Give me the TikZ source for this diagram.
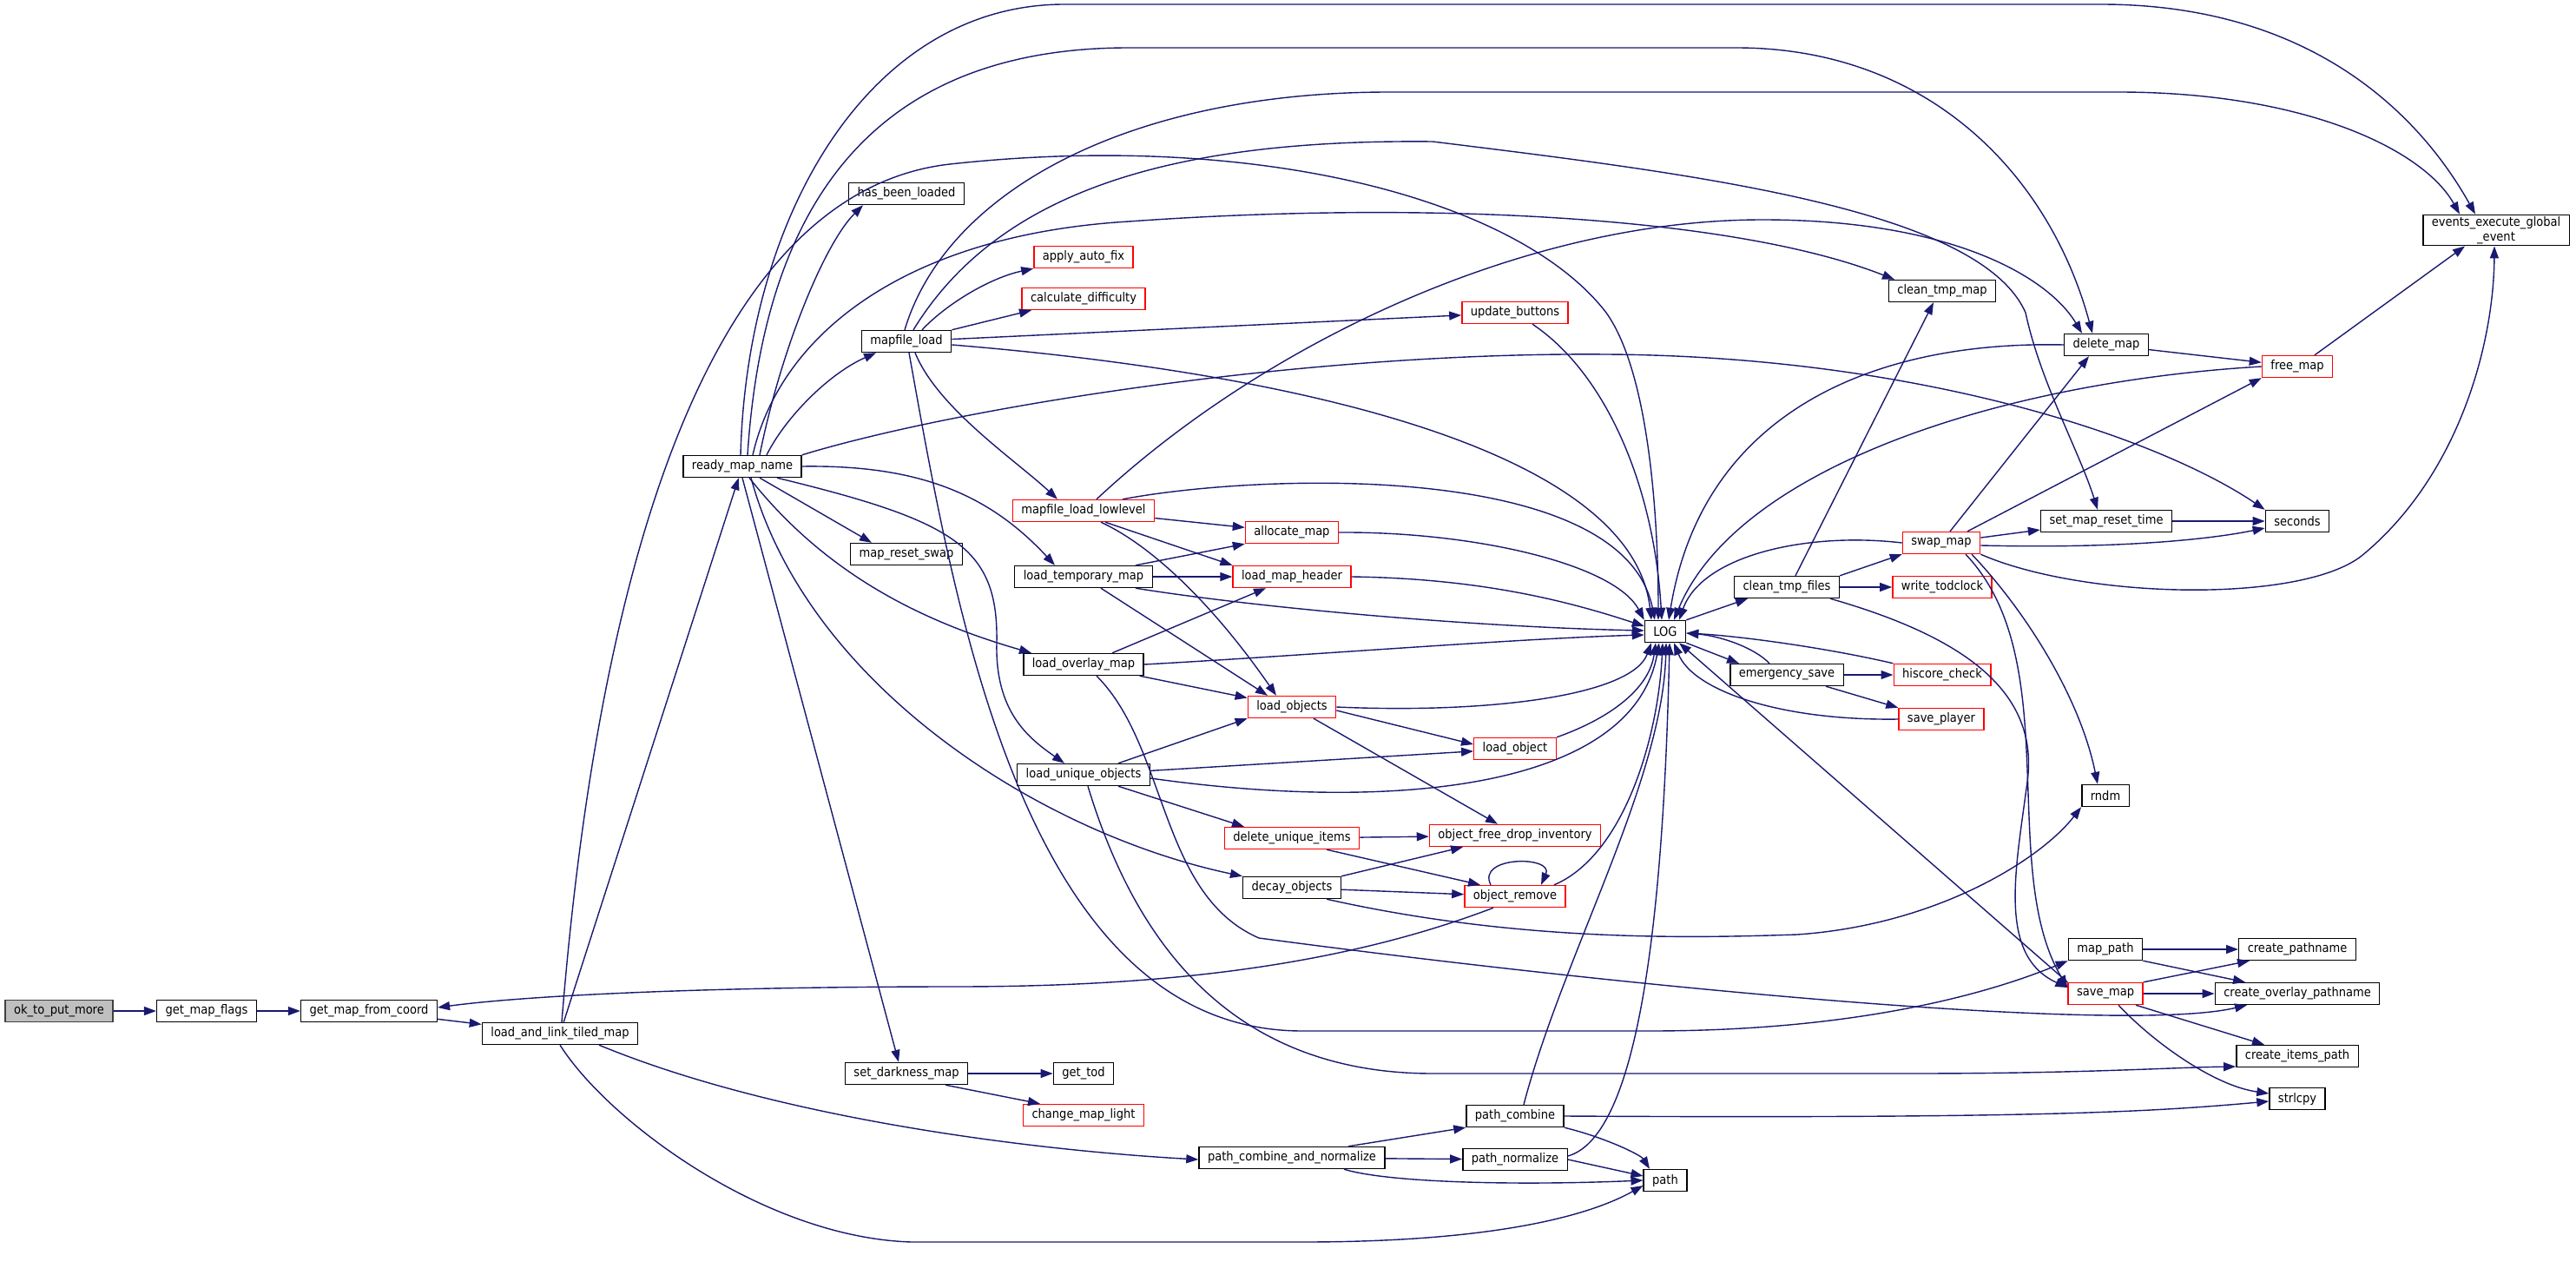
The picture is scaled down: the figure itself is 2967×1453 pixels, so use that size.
\documentclass[tikz,border=0pt]{standalone}
\usepackage{fontspec}
\newfontfamily\fnfont{DejaVu Sans Condensed}
\usetikzlibrary{arrows.meta}
\definecolor{callblue}{HTML}{191970}
\definecolor{rootgray}{HTML}{BFBFBF}
\definecolor{rootedge}{HTML}{404040}

\begin{document}
\begin{tikzpicture}[x=1pt, y=-1pt,
  fn/.style={draw=black, fill=white, line width=1.4pt, font=\fnfont\fontsize{14.5}{17}\selectfont,
    minimum height=25pt, inner xsep=10pt, inner ysep=2pt},
  fnred/.style={fn, draw=red},
  fnroot/.style={fn, fill=rootgray, draw=rootedge},
  call/.style={draw=callblue, line width=1.4pt, -{Triangle[length=14pt,width=10pt]}}]

\useasboundingbox (0,0) rectangle (2967,1453);

\node[fnroot] (ok) at (68,1164) {ok\_to\_put\_more};

\foreach \n/\x/\y/\t in {
  gmf/238/1164/get\_map\_flags, gmfc/425/1164/get\_map\_from\_coord,
  lalt/645/1190/load\_and\_link\_tiled\_map, rmn/855/537/ready\_map\_name,
  hbl/1044/223/has\_been\_loaded, ml/1044/393/mapfile\_load, mrs/1044/638/map\_reset\_swap,
  sdm/1044/1236/set\_darkness\_map, ltm/1248/664/load\_temporary\_map,
  lom/1248/765/load\_overlay\_map, luo/1248/892/load\_unique\_objects, gt/1248/1236/get\_tod,
  dco/1488/1022/decay\_objects, pcan/1488/1333/path\_combine\_and\_normalize,
  pc/1745/1285/path\_combine, pn/1745/1335/path\_normalize, log/1918/727/LOG,
  pth/1918/1359/path, ctf/2058/676/clean\_tmp\_files, es/2058/777/emergency\_save,
  ctm/2237/335/clean\_tmp\_map, dm/2426/397/delete\_map, smrt/2426/600/set\_map\_reset\_time,
  rndm/2425/916/rndm, mp/2425/1093/map\_path, sec/2646/600/seconds,
  cp/2646/1093/create\_pathname, cop/2646/1144/create\_overlay\_pathname,
  cip/2646/1216/create\_items\_path, strl/2646/1265/strlcpy}
  \node[fn] (\n) at (\x,\y) {\t};

\foreach \n/\x/\y/\t in {
  aaf/1248/296/apply\_auto\_fix, cd/1248/344/calculate\_difficulty,
  mll/1248/588/mapfile\_load\_lowlevel, am/1488/613/allocate\_map,
  lmh/1488/664/load\_map\_header, lo/1488/814/load\_objects,
  dui/1488/965/delete\_unique\_items, cml/1248/1284/change\_map\_light,
  ub/1745/360/update\_buttons, lobj/1745/862/load\_object,
  ofdi/1745/962/object\_free\_drop\_inventory, orm/1745/1032/object\_remove,
  sw/2236/625/swap\_map, wt/2237/676/write\_todclock, hc/2237/777/hiscore\_check,
  sp/2236/828/save\_player, sm/2425/1144/save\_map, fm/2646/422/free\_map}
  \node[fnred] (\n) at (\x,\y) {\t};

\node[fn, align=center] (eeg) at (2875,265) {events\_execute\_global\\\_event};

\foreach \a/\b in {ok/gmf, gmf/gmfc, gmfc/lalt, lalt/rmn, mll/am, ltm/lmh, lom/lo, luo/lobj,
  dui/ofdi, dco/orm, sdm/gt, pcan/pn, es/hc, ctf/wt, mp/cp, sm/cop, smrt/sec, sw/smrt, dm/fm, ml/ub}
  \draw[call] (\a) -- (\b);

\draw[call] ([xshift=20pt]rmn.south) -- ([xshift=-40pt]mrs.north);
\draw[call] (rmn.south) -- ([xshift=-9pt]sdm.north);
\draw[call] (ml.north east) -- ([xshift=-60pt]cd.south);
\draw[call] ([xshift=25pt]mll.south) -- (lmh.north west);
\draw[call] ([xshift=60pt]ltm.north) -- (am.south west);
\draw[call] ([xshift=20pt]ltm.south) -- ([xshift=-28pt]lo.north);
\draw[call] ([xshift=33pt]lom.north) -- ([xshift=-30pt]lmh.south);
\draw[call] ([xshift=40pt]luo.north) -- (lo.south west);
\draw[call] ([xshift=40pt]luo.south) -- ([xshift=-55pt]dui.north);
\draw[call] (dco.north east) -- ([xshift=-60pt]ofdi.south);
\draw[call] ([xshift=40pt]dui.south) -- ([xshift=-40pt]orm.north);
\draw[call] ([yshift=-4pt]lo.east) -- ([yshift=5pt]lobj.west);
\draw[call] ([xshift=25pt]lo.south) -- ([xshift=-20pt]ofdi.north);
\draw[call] ([xshift=65pt]pcan.north) -- (pc.south west);
\draw[call] (pn.east) -- ([yshift=5pt]pth.west);
\draw[call] ([xshift=45pt]sdm.south) -- ([xshift=-50pt]cml.north);
\draw[call] ([xshift=20pt]fm.north) -- ([xshift=-36pt]eeg.south);
\draw[call] ([xshift=10pt]sw.north) -- ([xshift=-20pt]dm.south);
\draw[call] ([xshift=30pt]sw.north) -- (fm.south west);
\draw[call] ([xshift=10pt]ctf.north) -- ([xshift=-10pt]ctm.south);
\draw[call] (ctf.north east) -- (sw.south west);
\draw[call] (log.north east) -- ([xshift=-45pt]ctf.south);
\draw[call] (log.south east) -- ([xshift=-55pt]es.north);
\draw[call] ([xshift=45pt]es.south) -- (sp.north west);
\draw[call] (sm.north west) -- ([xshift=16pt]log.south);
\draw[call] (sm.north east) -- ([xshift=-55pt]cp.south);
\draw[call] ([xshift=35pt]sm.south) -- ([xshift=-38pt]cip.north);
\draw[call] (mp.south east) -- ([xshift=-60pt]cop.north);

\draw[call] ([xshift=-2pt]rmn.north) .. controls (860,250) and (1000,5) .. (1226,5) -- (2420,5)
  .. controls (2650,5) and (2780,120) .. ([xshift=-24pt]eeg.north);
\draw[call] ([xshift=6pt]rmn.north) .. controls (880,230) and (1010,55) .. (1300,55) -- (2000,55)
  .. controls (2220,55) and (2360,200) .. ([xshift=-16pt]dm.north);
\draw[call] ([xshift=12pt]rmn.north) .. controls (900,380) and (1050,270) .. (1300,255)
  .. controls (1650,230) and (2000,250) .. ([xshift=-55pt]ctm.north);
\draw[call] ([xshift=20pt]rmn.north) .. controls (900,400) and (950,280) .. ([xshift=-50pt]hbl.south);
\draw[call] ([xshift=28pt]rmn.north) .. controls (905,480) and (955,430) .. ([xshift=-35pt]ml.south);
\draw[call] (rmn.north east) .. controls (1100,470) and (1500,405) .. (1850,408)
  .. controls (2200,410) and (2480,500) .. (sec.north west);
\draw[call] (rmn.east) .. controls (1060,535) and (1140,570) .. ([xshift=-33pt]ltm.north);
\draw[call] ([xshift=8pt]rmn.south) .. controls (950,660) and (1060,715) .. ([xshift=-60pt]lom.north);
\draw[call] ([xshift=40pt]rmn.south) .. controls (1100,600) and (1150,630) .. (1148,740)
  .. controls (1146,820) and (1185,850) .. ([xshift=-22pt]luo.north);
\draw[call] ([xshift=10pt]rmn.south) .. controls (930,790) and (1200,960) .. (dco.north west);

\draw[call] ([xshift=18pt]ml.north) .. controls (1090,350) and (1140,320) .. (aaf.south west);
\draw[call] ([yshift=-4pt]ml.east) .. controls (1500,430) and (1880,520) .. ([xshift=-16pt]log.north);
\draw[call] ([xshift=10pt]ml.south) .. controls (1080,470) and (1170,530) .. ([xshift=-30pt]mll.north);
\draw[call] ([xshift=3pt]ml.south) .. controls (1100,700) and (1180,1187) .. (1500,1187) -- (1900,1187)
  .. controls (2150,1187) and (2300,1140) .. (mp.south west);
\draw[call] ([xshift=-2pt]ml.north) .. controls (1090,220) and (1300,106) .. (1600,106) -- (2440,106)
  .. controls (2650,106) and (2790,170) .. ([xshift=-42pt]eeg.north);
\draw[call] ([xshift=8pt]ml.north) .. controls (1150,220) and (1350,160) .. (1650,163)
  .. controls (1950,200) and (2280,240) .. (2333,360)
  .. controls (2350,440) and (2395,520) .. ([xshift=-10pt]smrt.north);

\draw[call] ([xshift=20pt]mll.south) .. controls (1330,630) and (1400,700) .. ([xshift=-18pt]lo.north);
\draw[call] ([xshift=45pt]mll.north) .. controls (1450,545) and (1870,530) .. ([xshift=-12pt]log.north);
\draw[call] ([xshift=15pt]mll.north) .. controls (1450,400) and (1750,253) .. (2030,253)
  .. controls (2250,253) and (2360,320) .. ([xshift=-28pt]dm.north);
\draw[call] (am.east) .. controls (1700,612) and (1860,650) .. (log.north west);
\draw[call] (lmh.east) .. controls (1700,666) and (1800,690) .. ([yshift=6pt]log.west);
\draw[call] ([xshift=60pt]ltm.south) .. controls (1450,700) and (1700,722) .. ([yshift=1pt]log.west);
\draw[call] (lom.east) .. controls (1500,755) and (1750,735) .. ([yshift=-4pt]log.west);
\draw[call] ([xshift=15pt]lom.south) .. controls (1345,860) and (1335,1030) .. (1450,1080)
  .. controls (1900,1140) and (2450,1190) .. ([xshift=-58pt]cop.south);
\draw[call] ([yshift=-4pt]luo.east) .. controls (1600,935) and (1880,910) .. ([xshift=-7pt]log.south);
\draw[call] ([xshift=5pt]luo.south) .. controls (1300,1060) and (1400,1236) .. (1650,1236) -- (2200,1236)
  .. controls (2400,1236) and (2500,1229) .. ([yshift=-12pt]cip.west);
\draw[call] ([xshift=40pt]dco.south) .. controls (1750,1085) and (1950,1080) .. (2070,1076)
  .. controls (2230,1065) and (2350,990) .. (rndm.south west);

\draw[call] ([xshift=-28pt]orm.north) .. controls (1700,985) and (1790,985) .. ([xshift=30pt]orm.north);
\draw[call] ([xshift=45pt]orm.north) .. controls (1870,985) and (1910,850) .. ([xshift=-3pt]log.south);
\draw[call] ([xshift=-25pt]orm.south) .. controls (1550,1110) and (1350,1136) .. (1100,1136)
  .. controls (800,1136) and (600,1147) .. ([yshift=4pt]gmfc.east);
\draw[call] (lo.east) .. controls (1720,822) and (1880,800) .. ([xshift=-16pt]log.south);
\draw[call] (lobj.north east) .. controls (1860,825) and (1900,790) .. ([xshift=-11pt]log.south);
\draw[call] ([xshift=10pt]pc.north) .. controls (1800,1100) and (1915,900) .. ([xshift=1pt]log.south);
\draw[call] ([yshift=4pt]pn.east) .. controls (1880,1310) and (1915,1100) .. ([xshift=5pt]log.south);
\draw[call] (pc.south east) .. controls (1850,1310) and (1890,1330) .. ([xshift=-18pt]pth.north);
\draw[call] (pc.east) .. controls (2350,1288) and (2480,1280) .. ([yshift=-3pt]strl.west);
\draw[call] ([xshift=60pt]pcan.south) .. controls (1600,1362) and (1750,1365) .. (pth.west);

\draw[call] (lalt.south) .. controls (700,1290) and (880,1425) .. (1050,1430) -- (1500,1430)
  .. controls (1720,1430) and (1830,1400) .. ([yshift=-6pt]pth.west);
\draw[call] ([xshift=45pt]lalt.south) .. controls (900,1290) and (1200,1325) .. ([yshift=-2pt]pcan.west);
\draw[call] ([xshift=2pt]lalt.north) .. controls (690,640) and (820,220) .. (1094,189)
  .. controls (1450,150) and (1750,230) .. (1850,360)
  .. controls (1900,430) and (1910,600) .. ([xshift=-8pt]log.north);

\draw[call] ([xshift=20pt]ub.south) .. controls (1850,430) and (1905,560) .. ([xshift=-4pt]log.north);
\draw[call] (dm.west) .. controls (2150,392) and (1960,480) .. ([xshift=4pt]log.north);
\draw[call] (fm.west) .. controls (2300,440) and (2000,540) .. ([xshift=10pt]log.north);
\draw[call] (sw.west) .. controls (2080,612) and (1960,640) .. ([xshift=16pt]log.north);
\draw[call] (sw.south east) .. controls (2400,690) and (2650,695) .. (2720,640)
  .. controls (2830,550) and (2872,400) .. ([xshift=-2pt]eeg.south);
\draw[call] ([xshift=35pt]sw.south) .. controls (2330,700) and (2395,800) .. ([xshift=-9pt]rndm.north);
\draw[call] ([xshift=28pt]sw.south) .. controls (2380,760) and (2300,1000) .. ([yshift=7pt]sm.west);
\draw[call] ([yshift=-3pt]sw.east) .. controls (2450,632) and (2550,620) .. ([yshift=-8pt]sec.west);
\draw[call] ([xshift=50pt]ctf.south) .. controls (2250,730) and (2350,790) .. (2335,900)
  .. controls (2322,1000) and (2300,1100) .. ([yshift=7pt]sm.west);

\draw[call] (hc.north west) .. controls (2100,745) and (2000,732) .. ([yshift=-2pt]log.east);
\draw[call] ([xshift=-20pt]es.north) .. controls (2020,745) and (1980,732) .. ([yshift=-2pt]log.east);
\draw[call] (sp.west) .. controls (2050,830) and (1950,795) .. ([xshift=10pt]log.south);
\draw[call] ([xshift=15pt]sm.south) .. controls (2480,1200) and (2550,1250) .. ([yshift=6pt]strl.west);

\end{tikzpicture}
\end{document}
